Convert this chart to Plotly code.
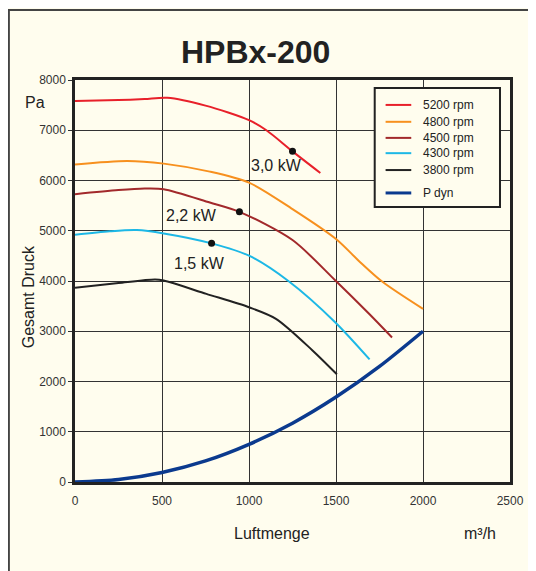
import plotly.graph_objects as go

# ---- data ----
x_5200 = [0, 250, 400, 530, 750, 1000, 1100, 1250, 1410]
y_5200 = [7580, 7600, 7620, 7645, 7490, 7200, 7000, 6580, 6150]

x_4800 = [0, 300, 510, 775, 1000, 1250, 1500, 1630, 1765, 2000]
y_4800 = [6320, 6390, 6336, 6177, 5958, 5430, 4835, 4405, 3990, 3446]

x_4500 = [0, 250, 400, 510, 775, 945, 1250, 1495, 1690, 1822]
y_4500 = [5728, 5810, 5840, 5827, 5562, 5377, 4815, 4015, 3347, 2875]

x_4300 = [0, 200, 355, 510, 785, 1000, 1230, 1495, 1693]
y_4300 = [4921, 4990, 5014, 4947, 4749, 4504, 3990, 3180, 2440]

x_3800 = [0, 250, 460, 510, 755, 1000, 1155, 1365, 1505]
y_3800 = [3863, 3960, 4030, 4008, 3744, 3478, 3248, 2619, 2143]

x_pdyn = [0, 250, 500, 750, 1000, 1250, 1500, 1750, 2000]
y_pdyn = [0, 50, 190, 420, 750, 1170, 1690, 2300, 3000]

power_x = [1250, 945, 785]
power_y = [6580, 5377, 4749]
power_labels = ["3,0 kW", "2,2 kW", "1,5 kW"]
label_x = [1160, 668, 715]
label_y = [6290, 5298, 4339]

x_ticks = [0, 500, 1000, 1500, 2000, 2500]
y_ticks = [0, 1000, 2000, 3000, 4000, 5000, 6000, 7000, 8000]

BG = "#FFFDEE"
FONT = "Liberation Sans, Arial, sans-serif"
TXT = "#222222"

series = [
    ("5200 rpm", x_5200, y_5200, "#E8202A", 2),
    ("4800 rpm", x_4800, y_4800, "#F7901E", 2),
    ("4500 rpm", x_4500, y_4500, "#A2292B", 2),
    ("4300 rpm", x_4300, y_4300, "#1DB8E6", 2),
    ("3800 rpm", x_3800, y_3800, "#222222", 2),
    ("P dyn", x_pdyn, y_pdyn, "#0B3A8E", 3.5),
]

fig = go.Figure()
for name, xs, ys, col, w in series:
    fig.add_trace(go.Scatter(x=xs, y=ys, mode="lines", name=name, showlegend=False,
                             line=dict(color=col, width=w, shape="spline", smoothing=0.8)))

fig.add_trace(go.Scatter(x=power_x, y=power_y, mode="markers", showlegend=False,
                         marker=dict(color="#111111", size=7)))

annotations = []
for lx, ly, t in zip(label_x, label_y, power_labels):
    annotations.append(dict(x=lx, y=ly, text=t, showarrow=False, xanchor="center",
                            yanchor="middle", font=dict(size=16, color=TXT, family=FONT)))

shapes = []
# outer frame
shapes.append(dict(type="rect", xref="paper", yref="paper", x0=-0.152, x1=1.6, y0=-0.6, y1=1.174,
                   line=dict(color="#444444", width=2), layer="below"))

# legend drawn as a boxed key
shapes.append(dict(type="rect", xref="paper", yref="paper", x0=0.689, x1=0.977, y0=0.684, y1=0.980,
                   line=dict(color="#222222", width=2), fillcolor=BG, layer="above"))
row_y = [0.938, 0.896, 0.856, 0.818, 0.776, 0.719]
for (name, xs, ys, col, w), ry in zip(series, row_y):
    shapes.append(dict(type="line", xref="paper", yref="paper", x0=0.714, x1=0.773, y0=ry, y1=ry,
                       line=dict(color=col, width=2 if w < 3 else 3), layer="above"))
    annotations.append(dict(text=name, xref="paper", yref="paper", x=0.796, y=ry, xanchor="left",
                            yanchor="middle", showarrow=False,
                            font=dict(size=12, color=TXT, family=FONT)))

annotations += [
    dict(text="<b>HPBx-200</b>", xref="paper", yref="paper", x=0.416, y=1.070, xanchor="center",
         yanchor="middle", showarrow=False, font=dict(size=32, color=TXT, family=FONT)),
    dict(text="Luftmenge", xref="paper", yref="paper", x=0.453, y=-0.127, xanchor="center",
         yanchor="middle", showarrow=False, font=dict(size=16, color=TXT, family=FONT)),
    dict(text="m³/h", xref="paper", yref="paper", x=0.931, y=-0.127, xanchor="center",
         yanchor="middle", showarrow=False, font=dict(size=16, color=TXT, family=FONT)),
    dict(text="Pa", xref="paper", yref="paper", x=-0.0915, y=0.943, xanchor="center",
         yanchor="middle", showarrow=False, font=dict(size=16, color=TXT, family=FONT)),
    dict(text="Gesamt Druck", xref="paper", yref="paper", x=-0.1075, y=0.46, xanchor="center",
         yanchor="middle", showarrow=False, textangle=-90,
         font=dict(size=16, color=TXT, family=FONT)),
]

fig.update_layout(
    width=528, height=563,
    margin=dict(l=67, r=24, t=72, b=89),
    paper_bgcolor=BG, plot_bgcolor=BG,
    font=dict(family=FONT, color=TXT, size=12),
    showlegend=False,
    xaxis=dict(range=[0, 2500], tickvals=x_ticks, showgrid=True, gridcolor="#333333",
               gridwidth=1, zeroline=False, showline=True, linecolor="#222222",
               linewidth=2.5, mirror=True, ticks="", ticklabelstandoff=6,
               tickfont=dict(size=12, color="#333333"), fixedrange=True),
    yaxis=dict(range=[0, 8000], tickvals=y_ticks, showgrid=True, gridcolor="#333333",
               gridwidth=1, zeroline=False, showline=True, linecolor="#222222",
               linewidth=2.5, mirror=True, ticks="outside", ticklen=4, tickcolor="#333333",
               ticklabelstandoff=0, tickfont=dict(size=12, color="#333333"), fixedrange=True),
    shapes=shapes,
    annotations=annotations,
)

fig.write_html("out.html")
